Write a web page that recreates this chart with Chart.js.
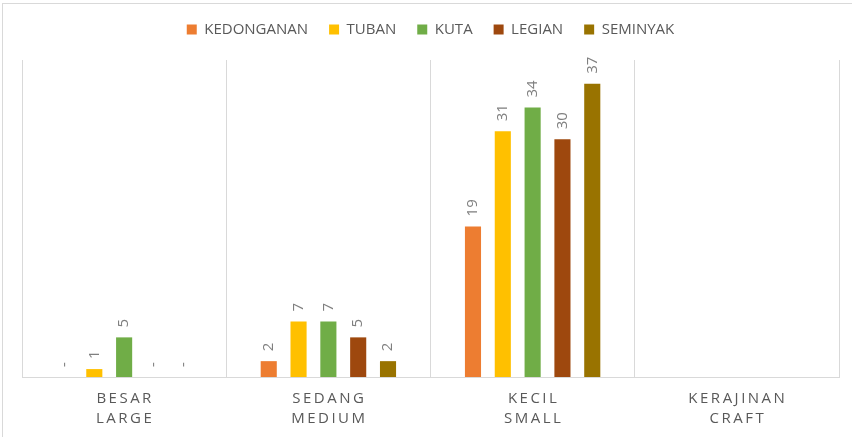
<!DOCTYPE html>
<html>
<head>
<meta charset="utf-8">
<script src="https://cdn.jsdelivr.net/npm/chart.js@4"></script>
<style>
    html, body { margin: 0; padding: 0; background: #fff; }
    #wrap { position: relative; width: 852px; height: 437px; }
    #frame {
        position: absolute; left: 2px; top: 3px; width: 850px; height: 434px;
        border-top: 1px solid #d9d9d9; border-left: 1px solid #d9d9d9;
        box-sizing: border-box; pointer-events: none;
    }
</style>
</head>
<body>
<div id="wrap">
    <canvas id="chart" width="852" height="437"></canvas>
    <div id="frame"></div>
</div>
<script>
// 数据
const categories = [['BESAR', 'LARGE'], ['SEDANG', 'MEDIUM'], ['KECIL', 'SMALL'], ['KERAJINAN', 'CRAFT']];
const seriesNames = ['KEDONGANAN', 'TUBAN', 'KUTA', 'LEGIAN', 'SEMINYAK'];
const kedonganan = [0, 2, 19, null];
const tuban = [1, 7, 31, null];
const kuta = [5, 7, 34, null];
const legian = [0, 5, 30, null];
const seminyak = [0, 2, 37, null];
const colors = ['#ed7d31', '#ffc000', '#70ad47', '#9e480e', '#997300'];

const textColor = '#595959';
const fontFamily = "'Open Sans', 'Liberation Sans', sans-serif";

// 图例下方留出空隙
const legendGap = {
    id: 'legendGap',
    beforeInit(chart) {
        const fit = chart.legend.fit;
        chart.legend.fit = function() {
            fit.bind(chart.legend)();
            this.height += 13;
        };
    }
};

// 柱子上方的数值标签（旋转90度）
const valueLabels = {
    id: 'valueLabels',
    afterDatasetsDraw(chart) {
        const ctx = chart.ctx;
        ctx.save();
        ctx.fillStyle = '#7f7f7f';
        ctx.font = '15px ' + fontFamily;
        ctx.textAlign = 'left';
        ctx.textBaseline = 'middle';
        chart.data.datasets.forEach((ds, i) => {
            const meta = chart.getDatasetMeta(i);
            meta.data.forEach((bar, j) => {
                const v = ds.data[j];
                if (v === null || v === undefined) return;
                const txt = v === 0 ? '-' : String(v);
                ctx.save();
                ctx.translate(bar.x, bar.y - 10);
                ctx.rotate(-Math.PI / 2);
                ctx.fillText(txt, 0, 0);
                ctx.restore();
            });
        });
        ctx.restore();
    }
};

// 带字间距的分类标签
const spacedTicks = {
    id: 'spacedTicks',
    afterDraw(chart) {
        const ctx = chart.ctx;
        const xs = chart.scales.x;
        ctx.save();
        ctx.fillStyle = textColor;
        ctx.font = '15px ' + fontFamily;
        ctx.textAlign = 'center';
        ctx.textBaseline = 'middle';
        ctx.letterSpacing = '2.5px';
        categories.forEach((lines, i) => {
            const x = xs.getPixelForValue(i) + 1;
            lines.forEach((line, k) => {
                ctx.fillText(line, x, xs.top + 22 + k * 20);
            });
        });
        ctx.restore();
    }
};

new Chart(document.getElementById('chart'), {
    type: 'bar',
    data: {
        labels: categories,
        datasets: [kedonganan, tuban, kuta, legian, seminyak].map((d, i) => ({
            label: seriesNames[i],
            data: d,
            backgroundColor: colors[i],
            borderWidth: 0,
            categoryPercentage: 0.73,
            barPercentage: 0.54
        }))
    },
    options: {
        responsive: false,
        animation: false,
        layout: { padding: { left: 22, right: 13, top: 1, bottom: 0 } },
        plugins: {
            legend: {
                position: 'top',
                labels: {
                    boxWidth: 10,
                    boxHeight: 10,
                    color: textColor,
                    font: { size: 15, family: fontFamily },
                    padding: 21
                }
            },
            tooltip: { enabled: false }
        },
        scales: {
            x: {
                grid: { color: '#d9d9d9', offset: true, drawTicks: false },
                border: { color: '#d9d9d9' },
                ticks: {
                    color: 'transparent',
                    font: { size: 15, family: fontFamily },
                    padding: 12
                }
            },
            y: {
                display: false,
                min: 0,
                max: 40
            }
        }
    },
    plugins: [legendGap, valueLabels, spacedTicks]
});
</script>
</body>
</html>
